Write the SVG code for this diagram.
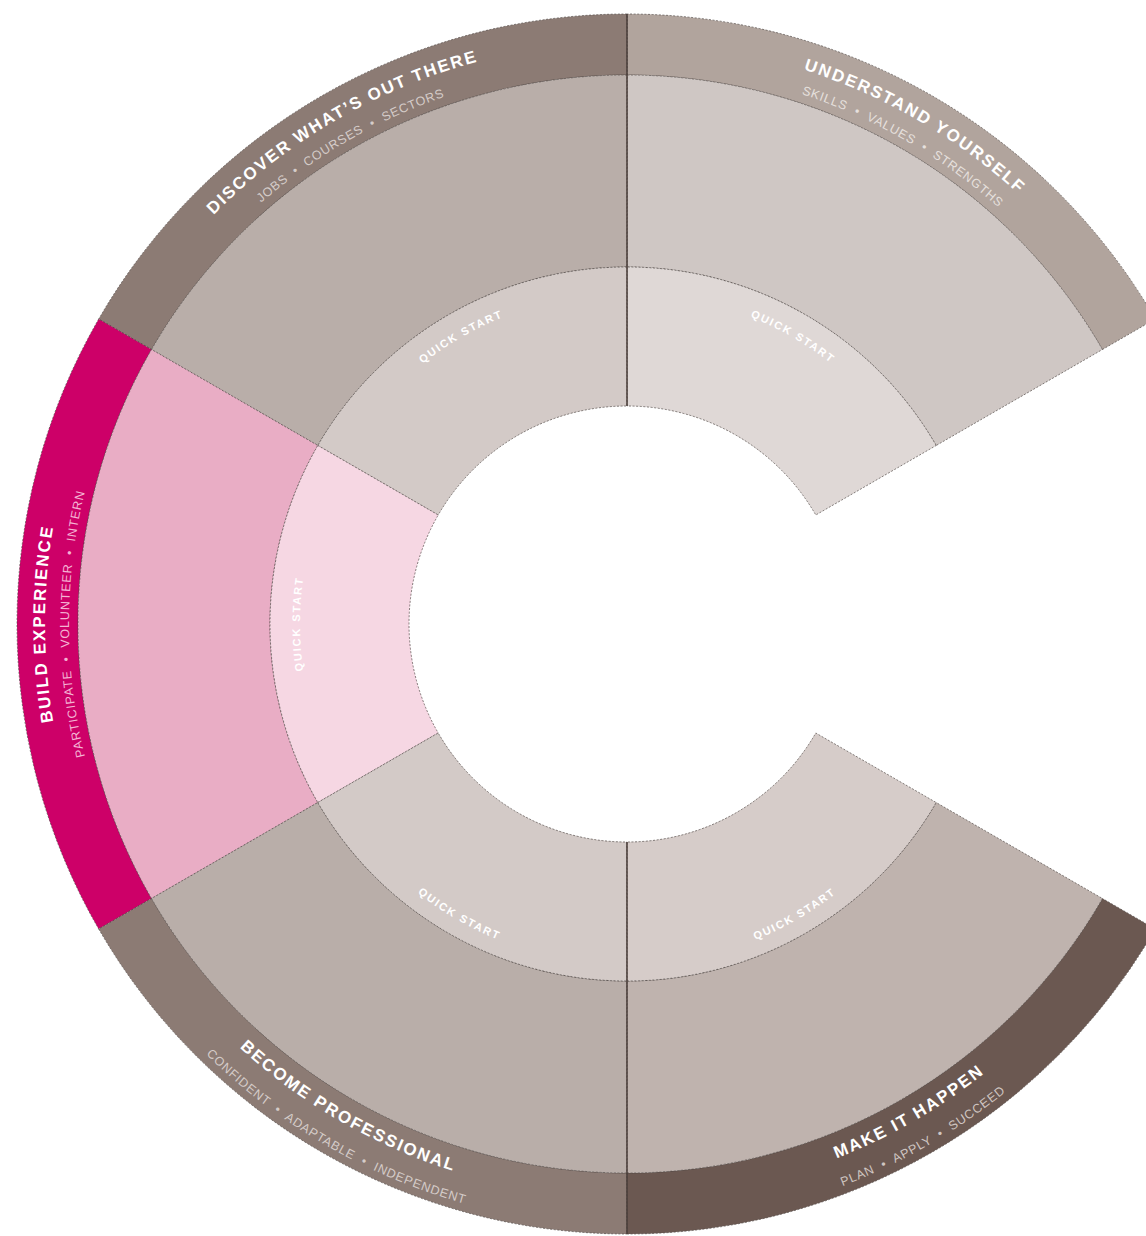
<svg xmlns="http://www.w3.org/2000/svg" width="1146" height="1236" viewBox="0 0 1146 1236">
<style>
.seg{stroke:#4d4643;stroke-width:0.9;stroke-dasharray:2 1.6;stroke-opacity:0.75}
.title{font-family:"Liberation Sans",Arial,sans-serif;font-weight:bold;font-size:17px;letter-spacing:1.9px;fill:#ffffff}
.sub{font-family:"Liberation Sans",Arial,sans-serif;font-size:12.5px;letter-spacing:0.8px}
.qs{font-family:"Liberation Sans",Arial,sans-serif;font-weight:bold;font-size:11px;letter-spacing:1.8px;fill:#ffffff}
.div{stroke:#4a3e3a;stroke-width:1.5;fill:none}
</style>
<defs>
<path id="p-dis-t" d="M 123 334 A 582 582 0 0 1 627 42"/>
<path id="p-und-t" d="M 627 42 A 582 582 0 0 1 1131 334"/>
<path id="p-bld-t" d="M 123 915 A 582 582 0 0 1 123 333"/>
<path id="p-dis-s" d="M 143.76 345 A 558 558 0 0 1 627 66"/>
<path id="p-und-s" d="M 627 66 A 558 558 0 0 1 1110.24 345"/>
<path id="p-bld-s" d="M 143.76 903 A 558 558 0 0 1 143.76 345"/>
<path id="p-bec-t" d="M 129.9 911 A 574 574 0 0 0 627 1198"/>
<path id="p-mak-t" d="M 627 1198 A 574 574 0 0 0 1124.1 911"/>
<path id="p-bec-s" d="M 105.65 925 A 602 602 0 0 0 627 1226"/>
<path id="p-mak-s" d="M 627 1226 A 602 602 0 0 0 1148.35 925"/>
<path id="p-dis-q" d="M 340.35 458.5 A 331 331 0 0 1 627 293"/>
<path id="p-und-q" d="M 627 293 A 331 331 0 0 1 913.65 458.5"/>
<path id="p-bld-q" d="M 343.81 787.5 A 327 327 0 0 1 343.81 460.5"/>
<path id="p-bec-q" d="M 331.69 794.5 A 341 341 0 0 0 627 965"/>
<path id="p-mak-q" d="M 627 965 A 341 341 0 0 0 922.31 794.5"/>
</defs>

<g id="understand-yourself">
<path class="seg" fill="#b1a49d" d="M 1155.28 319 A 610 610 0 0 0 627 14 L 627 75 A 549 549 0 0 1 1102.45 349.5 Z"/>
<path class="seg" fill="#cfc7c4" d="M 1102.45 349.5 A 549 549 0 0 0 627 75 L 627 267 A 357 357 0 0 1 936.17 445.5 Z"/>
<path class="seg" fill="#dfd8d6" d="M 936.17 445.5 A 357 357 0 0 0 627 267 L 627 406 A 218 218 0 0 1 815.79 515 Z"/>
<text class="title"><textPath href="#p-und-t" startOffset="50%" text-anchor="middle">UNDERSTAND YOURSELF</textPath></text>
<text class="sub" fill="#e6e0dd" xml:space="preserve"><textPath href="#p-und-s" startOffset="50%" text-anchor="middle">SKILLS  •  VALUES  •  STRENGTHS</textPath></text>
<text class="qs"><textPath href="#p-und-q" startOffset="50%" text-anchor="middle">QUICK START</textPath></text>
</g>

<g id="discover-whats-out-there">
<path class="seg" fill="#8c7b74" d="M 627 14 A 610 610 0 0 0 98.72 319 L 151.55 349.5 A 549 549 0 0 1 627 75 Z"/>
<path class="seg" fill="#b9aea9" d="M 627 75 A 549 549 0 0 0 151.55 349.5 L 317.83 445.5 A 357 357 0 0 1 627 267 Z"/>
<path class="seg" fill="#d3cac7" d="M 627 267 A 357 357 0 0 0 317.83 445.5 L 438.21 515 A 218 218 0 0 1 627 406 Z"/>
<text class="title"><textPath href="#p-dis-t" startOffset="50%" text-anchor="middle">DISCOVER WHAT’S OUT THERE</textPath></text>
<text class="sub" fill="#d5ccc9" xml:space="preserve"><textPath href="#p-dis-s" startOffset="50%" text-anchor="middle">JOBS  •  COURSES  •  SECTORS</textPath></text>
<text class="qs"><textPath href="#p-dis-q" startOffset="50%" text-anchor="middle">QUICK START</textPath></text>
</g>

<g id="build-experience">
<path class="seg" fill="#cd0068" d="M 98.72 319 A 610 610 0 0 0 98.72 929 L 151.55 898.5 A 549 549 0 0 1 151.55 349.5 Z"/>
<path class="seg" fill="#e9adc5" d="M 151.55 349.5 A 549 549 0 0 0 151.55 898.5 L 317.83 802.5 A 357 357 0 0 1 317.83 445.5 Z"/>
<path class="seg" fill="#f6d7e3" d="M 317.83 445.5 A 357 357 0 0 0 317.83 802.5 L 438.21 733 A 218 218 0 0 1 438.21 515 Z"/>
<text class="title"><textPath href="#p-bld-t" startOffset="50%" text-anchor="middle">BUILD EXPERIENCE</textPath></text>
<text class="sub" fill="#f4b3d3" xml:space="preserve"><textPath href="#p-bld-s" startOffset="50%" text-anchor="middle">PARTICIPATE  •  VOLUNTEER  •  INTERN</textPath></text>
<text class="qs"><textPath href="#p-bld-q" startOffset="50%" text-anchor="middle">QUICK START</textPath></text>
</g>

<g id="become-professional">
<path class="seg" fill="#8c7b74" d="M 98.72 929 A 610 610 0 0 0 627 1234 L 627 1173 A 549 549 0 0 1 151.55 898.5 Z"/>
<path class="seg" fill="#b9aea9" d="M 151.55 898.5 A 549 549 0 0 0 627 1173 L 627 981 A 357 357 0 0 1 317.83 802.5 Z"/>
<path class="seg" fill="#d3cac7" d="M 317.83 802.5 A 357 357 0 0 0 627 981 L 627 842 A 218 218 0 0 1 438.21 733 Z"/>
<text class="title"><textPath href="#p-bec-t" startOffset="50%" text-anchor="middle">BECOME PROFESSIONAL</textPath></text>
<text class="sub" fill="#d5ccc9" xml:space="preserve"><textPath href="#p-bec-s" startOffset="50%" text-anchor="middle">CONFIDENT  •  ADAPTABLE  •  INDEPENDENT</textPath></text>
<text class="qs"><textPath href="#p-bec-q" startOffset="50%" text-anchor="middle">QUICK START</textPath></text>
</g>

<g id="make-it-happen">
<path class="seg" fill="#6b5851" d="M 627 1234 A 610 610 0 0 0 1155.28 929 L 1102.45 898.5 A 549 549 0 0 1 627 1173 Z"/>
<path class="seg" fill="#bfb3ae" d="M 627 1173 A 549 549 0 0 0 1102.45 898.5 L 936.17 802.5 A 357 357 0 0 1 627 981 Z"/>
<path class="seg" fill="#d6ccc9" d="M 627 981 A 357 357 0 0 0 936.17 802.5 L 815.79 733 A 218 218 0 0 1 627 842 Z"/>
<text class="title"><textPath href="#p-mak-t" startOffset="50%" text-anchor="middle">MAKE IT HAPPEN</textPath></text>
<text class="sub" fill="#d0c6c2" xml:space="preserve"><textPath href="#p-mak-s" startOffset="50%" text-anchor="middle">PLAN  •  APPLY  •  SUCCEED</textPath></text>
<text class="qs"><textPath href="#p-mak-q" startOffset="50%" text-anchor="middle">QUICK START</textPath></text>
</g>

<g id="connectors">
<line class="div" x1="627" y1="14" x2="627" y2="406"/>
<line class="div" x1="627" y1="842" x2="627" y2="1234"/>
</g>
</svg>
